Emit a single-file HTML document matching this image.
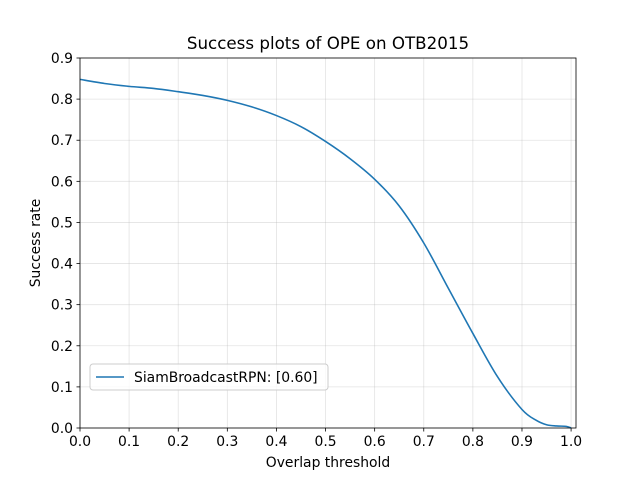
<!DOCTYPE html>
<html><head><meta charset="utf-8"><style>
body{margin:0;background:#fff;}
svg{display:block;font-family:"DejaVu Sans","Liberation Sans",sans-serif;}
</style></head><body>
<svg id="chart" width="640" height="480"></svg>
<script>
const xTicks=[0,0.1,0.2,0.3,0.4,0.5,0.6,0.7,0.8,0.9,1.0];
const yTicks=[0,0.1,0.2,0.3,0.4,0.5,0.6,0.7,0.8,0.9];
const thresholds=[0,0.05,0.1,0.15,0.2,0.25,0.3,0.35,0.4,0.45,0.5,0.55,0.6,0.65,0.7,0.75,0.8,0.85,0.9,0.93,0.95,0.97,0.99,1.0];
const successRates=[0.848,0.838,0.831,0.826,0.818,0.809,0.797,0.781,0.760,0.733,0.697,0.655,0.605,0.540,0.450,0.340,0.230,0.125,0.045,0.018,0.008,0.005,0.004,0.0];
const seriesName="SiamBroadcastRPN: [0.60]";
const NS="http://www.w3.org/2000/svg";
const svg=document.getElementById('chart');
const L=80,R=576,T=58,B=428;
const X=v=>L+v/1.01*(R-L);
const Y=v=>B-v/0.9*(B-T);
function el(t,a,p){const e=document.createElementNS(NS,t);for(const k in a)e.setAttribute(k,a[k]);(p||svg).appendChild(e);return e;}
const g=el('g',{});


xTicks.forEach(v=>{
 el('line',{x1:X(v),x2:X(v),y1:T,y2:B,stroke:'#b0b0b0','stroke-opacity':0.35,'stroke-width':0.8},g);
 el('line',{x1:X(v),x2:X(v),y1:B,y2:B+3.5,stroke:'#000','stroke-width':0.8});
 const t=el('text',{x:X(v),y:B+18,'font-size':13.9,'text-anchor':'middle'});t.textContent=v.toFixed(1);
 
 
});
yTicks.forEach(v=>{
 el('line',{x1:L,x2:R,y1:Y(v),y2:Y(v),stroke:'#b0b0b0','stroke-opacity':0.35,'stroke-width':0.8},g);
 el('line',{x1:L-3.5,x2:L,y1:Y(v),y2:Y(v),stroke:'#000','stroke-width':0.8});
 const t=el('text',{x:L-7,y:Y(v)+5,'font-size':13.9,'text-anchor':'end'});t.textContent=v.toFixed(1);
 
 
});
const pts=thresholds.map((x,i)=>[X(x),Y(successRates[i])]);
let d='M'+pts[0][0]+','+pts[0][1];
for(let i=0;i<pts.length-1;i++){
 const p0=pts[Math.max(0,i-1)],p1=pts[i],p2=pts[i+1],p3=pts[Math.min(pts.length-1,i+2)];
 const c1=[p1[0]+(p2[0]-p0[0])/6,p1[1]+(p2[1]-p0[1])/6];
 const c2=[p2[0]-(p3[0]-p1[0])/6,p2[1]-(p3[1]-p1[1])/6];
 d+=' C'+c1[0]+','+c1[1]+' '+c2[0]+','+c2[1]+' '+p2[0]+','+p2[1];
}
const line=el('path',{d:d,fill:'none',stroke:'#1f77b4','stroke-width':1.6});


const frame=el('rect',{x:L,y:T,width:R-L,height:B-T,fill:'none',stroke:'#000','stroke-width':0.8});


const title=el('text',{x:(L+R)/2,y:49,'font-size':16.7,'text-anchor':'middle'});title.textContent='Success plots of OPE on OTB2015';


const xl=el('text',{x:(L+R)/2,y:467,'font-size':13.9,'text-anchor':'middle'});xl.textContent='Overlap threshold';


const yl=el('text',{x:40,y:(T+B)/2,'font-size':13.9,'text-anchor':'middle',transform:'rotate(-90 40 '+(T+B)/2+')'});yl.textContent='Success rate';


const lg=el('g',{});


el('rect',{x:90,y:364,width:238,height:26,rx:3,fill:'#fff','fill-opacity':0.8,stroke:'#ccc','stroke-width':1},lg);
el('line',{x1:96,x2:124,y1:377,y2:377,stroke:'#1f77b4','stroke-width':1.6},lg);
const lt=el('text',{x:134,y:382,'font-size':13.9},lg);lt.textContent=seriesName;


</script>
</body></html>
